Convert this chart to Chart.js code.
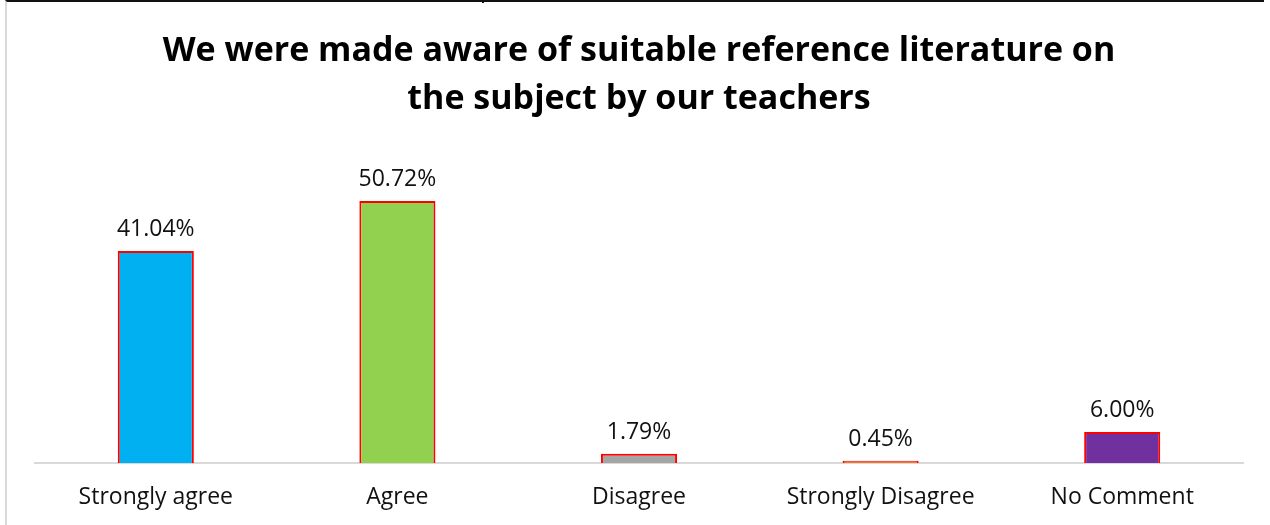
<!DOCTYPE html>
<html>
<head>
<meta charset="utf-8">
<script src="https://cdn.jsdelivr.net/npm/chart.js@4"></script>
<style>
  html, body { margin: 0; padding: 0; background: #fff; }
  #wrap { position: relative; width: 1270px; height: 525px; }
  #frame { position: absolute; left: 5px; top: 0; width: 1259px; height: 525px;
           border-top: 2px solid #111; border-left: 2px solid #d9d9d9; box-sizing: border-box; }
  #tick { position: absolute; left: 482px; top: 0; width: 2px; height: 3px; background: #111; }
  canvas { position: absolute; left: 0; top: 0; }
</style>
</head>
<body>
<div id="wrap">
  <canvas id="chart" width="1270" height="525"></canvas>
  <div id="frame"></div>
  <div id="tick"></div>
</div>
<script>
const categories = ['Strongly agree', 'Agree', 'Disagree', 'Strongly Disagree', 'No Comment'];
const percentages = [41.04, 50.72, 1.79, 0.45, 6.00];
const barColors = ['#00B0F0', '#92D050', '#A5A5A5', '#ED7D31', '#7030A0'];
const titleLines = ['We were made aware of suitable reference literature on', 'the subject by our teachers'];

// percentage text above each bar
const valueLabels = {
  id: 'valueLabels',
  afterDatasetsDraw(chart) {
    const ctx = chart.ctx;
    const meta = chart.getDatasetMeta(0);
    ctx.save();
    ctx.font = '23px "Open Sans"';
    ctx.fillStyle = '#111';
    ctx.textAlign = 'center';
    ctx.textBaseline = 'alphabetic';
    meta.data.forEach((bar, i) => {
      ctx.fillText(percentages[i].toFixed(2) + '%', bar.x, bar.y - 15);
    });
    ctx.restore();
  }
};

new Chart(document.getElementById('chart'), {
  type: 'bar',
  data: {
    labels: categories,
    datasets: [{
      data: percentages,
      backgroundColor: barColors,
      borderColor: '#FF0000',
      borderWidth: 2,
      borderSkipped: 'bottom',
      barPercentage: 0.63,
      categoryPercentage: 0.5
    }]
  },
  options: {
    responsive: false,
    animation: false,
    layout: { padding: { left: 35, right: 27, top: 18, bottom: 0 } },
    scales: {
      y: { display: false, min: 0, max: 60 },
      x: {
        grid: { display: false, drawTicks: false },
        border: { color: '#d9d9d9', width: 2 },
        ticks: { color: '#111', font: { family: 'Open Sans', size: 23 }, padding: 21 },
        afterFit(axis) { axis.height = 62; }
      }
    },
    plugins: {
      legend: { display: false },
      tooltip: { enabled: false },
      title: {
        display: true,
        text: titleLines,
        color: '#000',
        font: { family: 'Open Sans', size: 34, weight: 'bold', lineHeight: 1.4 },
        padding: { top: 10, bottom: 30 }
      }
    }
  },
  plugins: [valueLabels]
});
</script>
</body>
</html>
